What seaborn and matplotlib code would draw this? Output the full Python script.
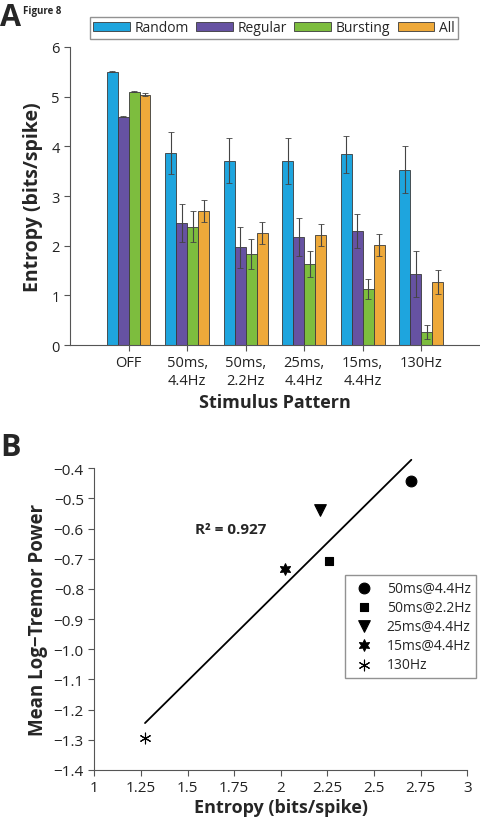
import numpy as np
import pandas as pd
import seaborn as sns
import matplotlib.pyplot as plt

# Panel A data: entropy per stimulus pattern and neuron group
patterns = ["OFF", "50ms,\n4.4Hz", "50ms,\n2.2Hz", "25ms,\n4.4Hz", "15ms,\n4.4Hz", "130Hz"]
groups = ["Random", "Regular", "Bursting", "All"]
random_mean = [5.50, 3.87, 3.71, 3.71, 3.84, 3.53]
regular_mean = [4.60, 2.46, 1.97, 2.18, 2.30, 1.43]
bursting_mean = [5.10, 2.38, 1.84, 1.63, 1.12, 0.27]
all_mean = [5.04, 2.70, 2.26, 2.22, 2.01, 1.27]
random_err = [0.01, 0.42, 0.45, 0.46, 0.37, 0.47]
regular_err = [0.01, 0.38, 0.41, 0.38, 0.34, 0.46]
bursting_err = [0.01, 0.31, 0.30, 0.26, 0.20, 0.14]
all_err = [0.03, 0.22, 0.22, 0.22, 0.22, 0.25]
group_colors = ["#1EA5DE", "#6652A2", "#7DBD3E", "#EEA93A"]

# Panel B data: entropy vs tremor power
conditions = ["50ms@4.4Hz", "50ms@2.2Hz", "25ms@4.4Hz", "15ms@4.4Hz", "130Hz"]
entropy_x = [2.70, 2.256, 2.21, 2.022, 1.272]
tremor_y = [-0.441, -0.708, -0.540, -0.735, -1.294]
cond_markers = ["o", "s", "v", (6, 1, 0), (6, 2, 0)]
cond_sizes = [60, 40, 70, 70, 60]

sns.set_style("ticks")
plt.rcParams["font.family"] = ["Open Sans", "DejaVu Sans"]
plt.rcParams["axes.edgecolor"] = "#555555"
plt.rcParams["axes.linewidth"] = 0.8
plt.rcParams["xtick.color"] = "#555555"
plt.rcParams["ytick.color"] = "#555555"
plt.rcParams["xtick.labelcolor"] = "#222222"
plt.rcParams["ytick.labelcolor"] = "#222222"

fig = plt.figure(figsize=(4.81, 8.20), dpi=100)

# ---------- Panel A ----------
axA = fig.add_axes([0.1455, 0.578, 0.852, 0.3635])
means = {"Random": random_mean, "Regular": regular_mean, "Bursting": bursting_mean, "All": all_mean}
errs = {"Random": random_err, "Regular": regular_err, "Bursting": bursting_err, "All": all_err}
df = pd.DataFrame({
    "pattern": np.tile(patterns, len(groups)),
    "group": np.repeat(groups, len(patterns)),
    "entropy": np.concatenate([means[g] for g in groups]),
})
sns.barplot(data=df, x="pattern", y="entropy", hue="group", palette=group_colors,
            saturation=1, width=0.75, errorbar=None, edgecolor="#3a3a3a",
            linewidth=0.6, ax=axA)

for cont, g in zip(axA.containers, groups):
    xs = [p.get_x() + p.get_width() / 2 for p in cont]
    hs = [p.get_height() for p in cont]
    axA.errorbar(xs, hs, yerr=errs[g], fmt="none", ecolor="#444444",
                 elinewidth=0.8, capsize=2.5, capthick=0.6)

axA.set_xlim(-1, 6)
axA.set_ylim(0, 6)
axA.set_yticks(range(0, 7))
axA.set_xlabel("Stimulus Pattern", fontsize=13, fontweight="bold", labelpad=4)
axA.set_ylabel("Entropy (bits/spike)", fontsize=14, fontweight="bold", labelpad=6)
axA.tick_params(axis="both", labelsize=10.5, length=4, width=0.8)
sns.despine(ax=axA)

handles, labels = axA.get_legend_handles_labels()
axA.legend(handles, labels, ncol=4, loc="center", bbox_to_anchor=(0.57, 0.965),
           bbox_transform=fig.transFigure, fontsize=10, frameon=True, fancybox=False,
           edgecolor="#777777", handlelength=2.6, handleheight=0.65, columnspacing=0.5,
           handletextpad=0.4, borderpad=0.25, borderaxespad=0)

# ---------- Panel B ----------
axB = fig.add_axes([0.196, 0.0598, 0.7755, 0.368])
dfB = pd.DataFrame({"entropy": entropy_x, "tremor": tremor_y, "cond": conditions})
sns.regplot(data=dfB, x="entropy", y="tremor", ci=None, scatter=False, truncate=True,
            color="black", line_kws={"linewidth": 1.3, "clip_on": False}, ax=axB)
for i, c in enumerate(conditions):
    sns.scatterplot(data=dfB.iloc[[i]], x="entropy", y="tremor", marker=cond_markers[i],
                    color="black", s=cond_sizes[i], edgecolor="black", linewidth=0.8,
                    label=c, ax=axB)

axB.set_xlim(1, 3)
axB.set_ylim(-1.4, -0.4)
xt = np.arange(1, 3.01, 0.25)
axB.set_xticks(xt)
axB.set_xticklabels(["1", "1.25", "1.5", "1.75", "2", "2.25", "2.5", "2.75", "3"])
yt = np.arange(-1.4, -0.39, 0.1)
axB.set_yticks(yt)
axB.set_yticklabels(["\u2212%.1f" % abs(v) for v in yt])
axB.tick_params(axis="both", labelsize=11, length=4, width=0.8)
axB.set_xlabel("Entropy (bits/spike)", fontsize=13, fontweight="bold", labelpad=2)
axB.set_ylabel("Mean Log\u2212Tremor Power", fontsize=13.5, fontweight="bold", labelpad=4)
axB.text(1.54, -0.6, "R\u00b2 = 0.927", fontsize=11, fontweight="bold", va="center")
sns.despine(ax=axB)

axB.legend(loc="upper right", bbox_to_anchor=(0.99, 0.2976), bbox_transform=fig.transFigure,
           fontsize=10, frameon=True, fancybox=False, edgecolor="#777777",
           handletextpad=0.6, borderpad=0.4, labelspacing=0.3, borderaxespad=0)

# panel letters
fig.text(0.047, 0.993, "Figure 8", fontsize=7, fontweight="bold", va="top")
fig.text(0.0, 0.996, "A", fontsize=22, fontweight="bold", va="top")
fig.text(0.0, 0.472, "B", fontsize=22, fontweight="bold", va="top")

fig.savefig("out.png", dpi=100)
